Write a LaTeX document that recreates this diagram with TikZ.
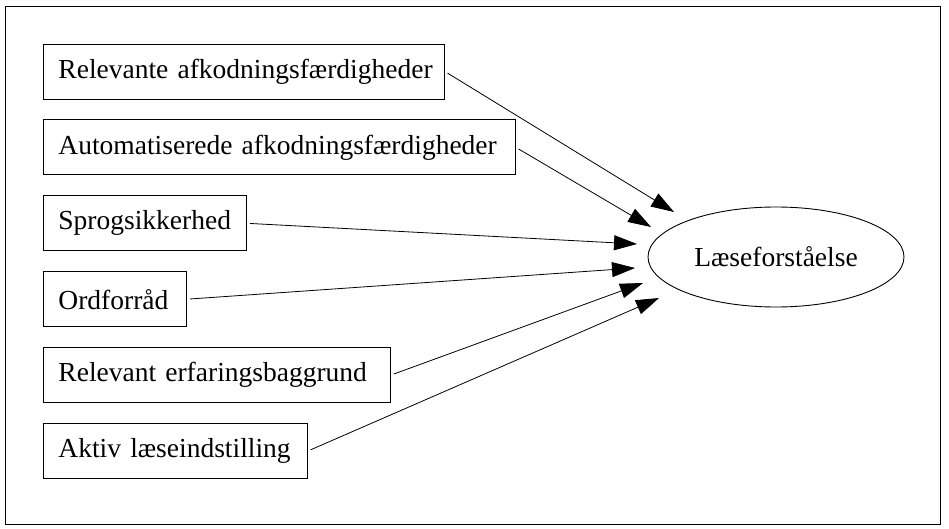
\documentclass[tikz,border=0pt]{standalone}
\usepackage{fontspec}
\setmainfont{Liberation Serif}
\usetikzlibrary{shapes.geometric,arrows.meta}

\begin{document}
\begin{tikzpicture}[x=1pt, y=-1pt, font=\fontsize{27.5}{32}\selectfont,
    factor/.style={draw, line width=0.9pt, anchor=west, minimum height=55pt, inner xsep=15pt, align=left},
    effect/.style={-{Triangle[length=23pt, width=15pt]}, line width=0.8pt}]
    \useasboundingbox (0,0) rectangle (949,529);
    \draw[line width=0.9pt] (5,6) rectangle (940,524);
    \foreach \i/\w/\txt in {1/401/Relevante afkodningsfærdigheder, 2/472/Automatiserede afkodningsfærdigheder,
        3/203/Sprogsikkerhed, 4/143/Ordforråd, 5/347/Relevant erfaringsbaggrund, 6/264/Aktiv læseindstilling}
        {\node[factor, text width=\w pt-30pt] (f\i) at (43, {71.5+75.9*(\i-1)}) {\mbox{\txt}};}
    \node[draw, ellipse, line width=0.9pt, minimum width=256pt, minimum height=100pt] (goal) at (776,257) {Læseforståelse};
    \coordinate (t1) at (674,212); \coordinate (t2) at (651,227); \coordinate (t3) at (637,244);
    \coordinate (t4) at (635,268); \coordinate (t5) at (643,283); \coordinate (t6) at (659,298);
    % pilene stopper lidt før ellipsen
    \foreach \i in {1,...,6} {\draw[effect, shorten <=3pt] (f\i.east) -- (t\i);}
\end{tikzpicture}
\end{document}
